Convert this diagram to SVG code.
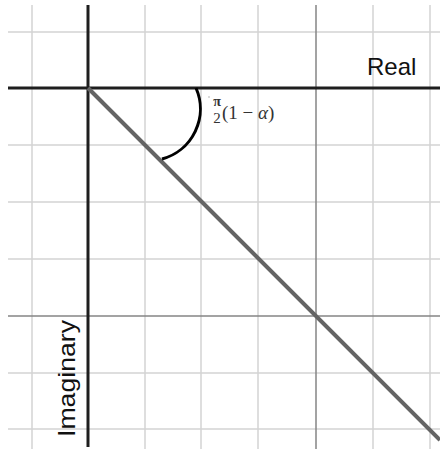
<svg xmlns="http://www.w3.org/2000/svg" width="440" height="449" viewBox="0 0 440 449">
  <style>
    .grid { stroke: #d4d4d4; stroke-width: 1.5; fill: none; }
    .grid2 { stroke: #858585; stroke-width: 1.5; fill: none; }
    .axis { stroke: #1e1e1e; stroke-width: 3; fill: none; }
    .ray { stroke: #646464; stroke-width: 4; fill: none; }
    .arc { stroke: #000; stroke-width: 3; fill: none; }
    .lbl { font-family: "Liberation Sans", Arial, sans-serif; font-size: 24px; fill: #111; }
    .math { font-family: "Liberation Serif", "DejaVu Serif", serif; fill: #333; }
  </style>
  <rect width="440" height="449" fill="#ffffff"/>
  <g id="grid">
    <path class="grid" d="M32,5V449 M145,5V449 M201,5V449 M258,5V449 M373,5V449 M430,5V449"/>
    <path class="grid" d="M8,32H440 M8,145H440 M8,202H440 M8,259H440 M8,373H440 M8,429H440"/>
    <path class="grid2" d="M316,5V449 M8,316H440"/>
  </g>
  <g id="axes">
    <line id="real-axis" class="axis" x1="8" y1="88" x2="440" y2="88"/>
    <line id="imag-axis" class="axis" x1="88" y1="5" x2="88" y2="447"/>
  </g>
  <g id="ray">
    <line class="ray" x1="88" y1="88" x2="440" y2="440"/>
  </g>
  <g id="angle">
    <path class="arc" d="M196,88 A52,52 0 0 1 162,159"/>
    <circle cx="209" cy="97" r="0.7" fill="#999"/>
    <text class="math" x="217" y="106" font-size="14" font-weight="bold" text-anchor="middle">π</text>
    <text class="math" x="217" y="123" font-size="15" text-anchor="middle">2</text>
    <text class="math" x="222" y="119" font-size="19">(1 − <tspan font-style="italic">α</tspan>)</text>
  </g>
  <g id="labels">
    <text id="real-label" class="lbl" x="367" y="75">Real</text>
    <text id="imag-label" class="lbl" transform="translate(75,437) rotate(-90)" textLength="117" lengthAdjust="spacingAndGlyphs">Imaginary</text>
  </g>
</svg>
